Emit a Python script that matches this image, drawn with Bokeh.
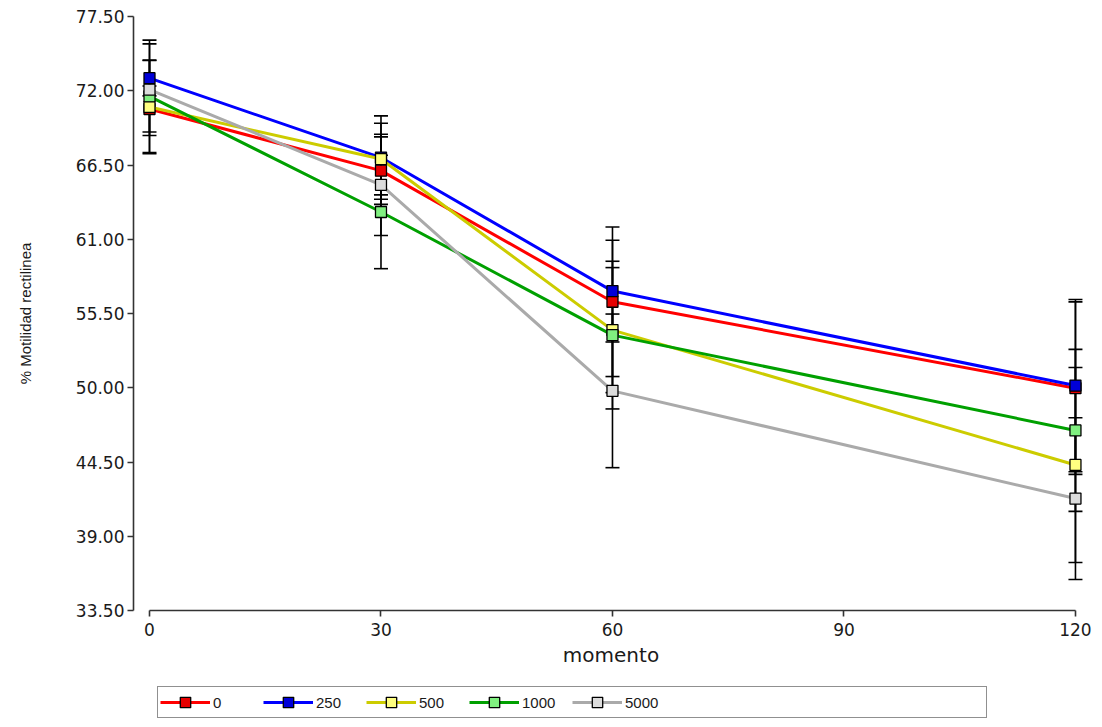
from bokeh.plotting import figure
from bokeh.layouts import column
from bokeh.models import (Range1d, FixedTicker, NumeralTickFormatter, Whisker, TeeHead,
                          ColumnDataSource, Legend, LegendItem)
from bokeh.embed import file_html
from bokeh.resources import INLINE

# ---- data ----
moments = [0, 30, 60, 120]
dose_labels = ["0", "250", "500", "1000", "5000"]

mean_0 = [70.65, 66.08, 56.37, 49.97]
sd_0 = [1.70, 2.50, 5.54, 6.39]
mean_250 = [72.93, 67.05, 57.16, 50.16]
sd_250 = [1.31, 3.09, 3.77, 6.38]
mean_500 = [70.80, 66.94, 54.27, 44.28]
sd_500 = [3.47, 2.65, 4.63, 7.22]
mean_1000 = [71.59, 63.02, 53.90, 46.84]
sd_1000 = [4.16, 4.20, 5.47, 6.00]
mean_5000 = [72.08, 65.03, 49.77, 41.79]
sd_5000 = [3.39, 3.75, 5.69, 5.99]

y_ticks = [33.5, 39.0, 44.5, 50.0, 55.5, 61.0, 66.5, 72.0, 77.5]
x_ticks = [0, 30, 60, 90, 120]

line_colors = ["#FF0000", "#0000FF", "#CCCC00", "#00A000", "#AAAAAA"]
fill_colors = ["#E60000", "#0000D8", "#FFFF80", "#80F080", "#DCDCDC"]

means = [mean_0, mean_250, mean_500, mean_1000, mean_5000]
sds = [sd_0, sd_250, sd_500, sd_1000, sd_5000]

W = 1094
p = figure(width=W, height=680,
           x_range=Range1d(-2.073, 121.69), y_range=Range1d(33.5, 77.5),
           output_backend="svg", toolbar_location=None,
           min_border_left=133, min_border_right=6, min_border_top=16, min_border_bottom=70)

p.xgrid.visible = False
p.ygrid.visible = False
p.outline_line_color = None

text_color = "#1a1a1a"
for ax in (p.xaxis[0], p.yaxis[0]):
    ax.axis_line_color = "#333333"
    ax.axis_line_width = 1.6
    ax.major_tick_line_color = "#333333"
    ax.major_tick_line_width = 1.6
    ax.major_tick_in = 0
    ax.major_tick_out = 6
    ax.minor_tick_line_color = None
    ax.major_label_text_font = "DejaVu Sans"
    ax.major_label_text_font_size = "17px"
    ax.major_label_text_color = text_color
    ax.axis_label_text_font_style = "normal"
    ax.axis_label_text_color = text_color

p.xaxis.ticker = FixedTicker(ticks=x_ticks)
p.xaxis.bounds = (0, 120)
p.xaxis.major_label_standoff = 6
p.xaxis.axis_label = "momento"
p.xaxis.axis_label_text_font = "DejaVu Sans"
p.xaxis.axis_label_text_font_size = "20px"
p.xaxis.axis_label_standoff = 4

p.yaxis.ticker = FixedTicker(ticks=y_ticks)
p.yaxis.formatter = NumeralTickFormatter(format="0.00")
p.yaxis.bounds = (33.5, 77.5)
p.yaxis.major_label_standoff = 3
p.yaxis.axis_label = "% Motilidad rectilinea"
p.yaxis.axis_label_text_font = "Liberation Sans"
p.yaxis.axis_label_text_font_size = "15px"
p.yaxis.axis_label_standoff = 39

# legend strip below the chart (same sources, drawn out of view)
pl = figure(width=W, height=39, x_range=Range1d(1000, 1001), y_range=Range1d(1000, 1001),
            output_backend="svg", toolbar_location=None,
            x_axis_type=None, y_axis_type=None, min_border=0)
pl.xgrid.visible = False
pl.ygrid.visible = False
pl.outline_line_color = None

items = []
for name, m, s, lc, fc in zip(dose_labels, means, sds, line_colors, fill_colors):
    src = ColumnDataSource(dict(x=moments, y=m,
                                upper=[a + b for a, b in zip(m, s)],
                                lower=[a - b for a, b in zip(m, s)]))
    w = Whisker(base="x", upper="upper", lower="lower", source=src,
                line_color="black", line_width=1.6,
                upper_head=TeeHead(size=14, line_color="black", line_width=1.6),
                lower_head=TeeHead(size=14, line_color="black", line_width=1.6))
    p.add_layout(w)
    p.line("x", "y", source=src, line_color=lc, line_width=3)
    p.scatter("x", "y", source=src, marker="square", size=11,
              fill_color=fc, line_color="black", line_width=1.3)
    lr = pl.line("x", "y", source=src, line_color=lc, line_width=3)
    sr = pl.scatter("x", "y", source=src, marker="square", size=11,
                    fill_color=fc, line_color="black", line_width=1.3)
    items.append(LegendItem(label=name, renderers=[lr, sr]))

# empty slots that widen the legend frame like the original
for _ in range(3):
    items.append(LegendItem(label="", renderers=[]))

legend = Legend(items=items, orientation="horizontal", location=(24, 1),
                glyph_width=50, glyph_height=26, label_width=50, label_standoff=3,
                spacing=0, padding=2, margin=0,
                border_line_color="#222222", border_line_width=1.5,
                label_text_font="Liberation Sans", label_text_font_size="15px",
                label_text_color=text_color, background_fill_alpha=1.0)
pl.add_layout(legend)

layout = column(p, pl, spacing=0)
open("out.html", "w").write(file_html(layout, INLINE))
